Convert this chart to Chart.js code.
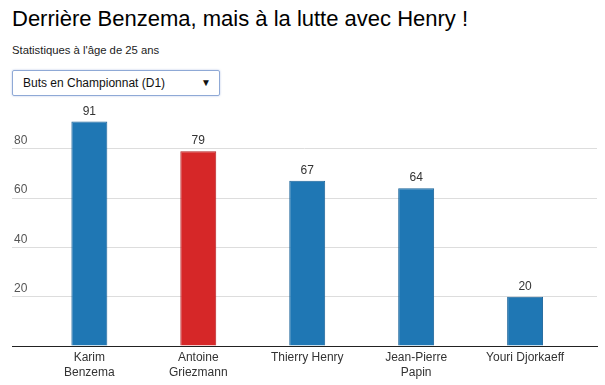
<!DOCTYPE html>
<html>
<head>
<meta charset="utf-8">
<script src="https://cdn.jsdelivr.net/npm/chart.js@4"></script>
<style>
  html, body { margin: 0; padding: 0; background: #fff; }
  body { width: 605px; height: 385px; position: relative; overflow: hidden; font-family: "Liberation Sans", Arial, sans-serif; }
  h1 { position: absolute; left: 12px; top: 6px; margin: 0; font-size: 22px; font-weight: normal; color: #000; }
  .sub { position: absolute; left: 12px; top: 44px; font-size: 11.3px; color: #222; }
  .picker {
    position: absolute; left: 12px; top: 70px; width: 206px; height: 24px;
    border: 1px solid #8fa9d6; border-radius: 2px; box-shadow: 0 0 2px rgba(120,150,210,0.6);
    font-size: 12px; color: #111; line-height: 24px; box-sizing: content-box;
  }
  .picker span { position: absolute; left: 10px; }
  .picker i { position: absolute; right: 8px; font-style: normal; font-size: 10px; }
  #wrap { position: absolute; left: 0; top: 100px; width: 605px; height: 285px; }
</style>
</head>
<body>
<h1>Derrière Benzema, mais à la lutte avec Henry !</h1>
<div class="sub">Statistiques à l'âge de 25 ans</div>
<div class="picker"><span>Buts en Championnat (D1)</span><i>▼</i></div>
<div id="wrap"><canvas id="chart"></canvas></div>
<script>
const players = [
    ["Karim", "Benzema"],
    ["Antoine", "Griezmann"],
    ["Thierry Henry"],
    ["Jean-Pierre", "Papin"],
    ["Youri Djorkaeff"]
];
const goals = [91, 79, 67, 64, 20];
const barColors = ['#1f77b4', '#d62728', '#1f77b4', '#1f77b4', '#1f77b4'];
const borderColors = ['#1a6399', '#b52022', '#1a6399', '#1a6399', '#1a6399'];
const yTicks = [20, 40, 60, 80];

// values written above each bar
const valueLabels = {
    id: 'valueLabels',
    afterDatasetsDraw(chart) {
        const ctx = chart.ctx;
        const meta = chart.getDatasetMeta(0);
        ctx.save();
        ctx.font = '12px "Liberation Sans", Arial, sans-serif';
        ctx.fillStyle = '#333';
        ctx.textAlign = 'center';
        ctx.textBaseline = 'bottom';
        meta.data.forEach((bar, i) => {
            ctx.fillText(goals[i], bar.x, bar.y - 4);
        });
        ctx.restore();
    }
};

const ctx = document.getElementById('chart').getContext('2d');
new Chart(ctx, {
    type: 'bar',
    data: {
        datasets: [{
            data: goals.map((v, i) => ({ x: i, y: v })),
            backgroundColor: barColors,
            borderColor: borderColors,
            borderWidth: 1,
            barPercentage: 0.33,
            categoryPercentage: 1
        }]
    },
    options: {
        responsive: true,
        maintainAspectRatio: false,
        animation: false,
        layout: { padding: { left: 8, right: 8, top: 0, bottom: 1 } },
        plugins: { legend: { display: false }, tooltip: { enabled: false } },
        scales: {
            x: {
                type: 'linear',
                min: -0.71,
                max: 4.66,
                offset: false,
                afterBuildTicks(scale) {
                    scale.ticks = players.map((p, i) => ({ value: i }));
                },
                grid: { display: false, drawTicks: false },
                border: { display: true, color: '#222', width: 1 },
                ticks: {
                    padding: 4,
                    color: '#333',
                    font: { family: '"Liberation Sans", Arial, sans-serif', size: 12, lineHeight: 1.25 },
                    maxRotation: 0,
                    autoSkip: false,
                    callback: (v) => players[v]
                }
            },
            y: {
                min: 0,
                max: 96,
                afterBuildTicks(scale) {
                    scale.ticks = [0].concat(yTicks).map(v => ({ value: v }));
                },
                grid: { color: '#ddd', drawTicks: false },
                border: { display: false },
                ticks: {
                    mirror: true,
                    padding: 2,
                    labelOffset: -8,
                    color: '#555',
                    font: { family: '"Liberation Sans", Arial, sans-serif', size: 12 },
                    callback: (v) => v === 0 ? '' : v
                }
            }
        }
    },
    plugins: [valueLabels]
});
</script>
</body>
</html>
